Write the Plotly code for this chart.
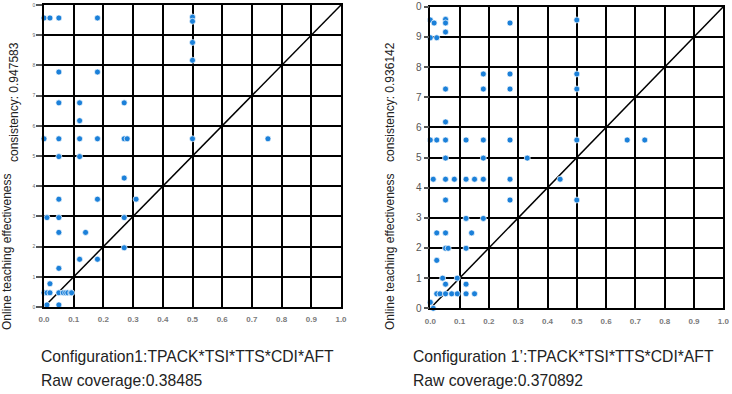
import plotly.graph_objects as go

# ---------------- data ----------------
ticks = [0.0, 0.1, 0.2, 0.3, 0.4, 0.5, 0.6, 0.7, 0.8, 0.9, 1.0]
xtick_text = ["0.0", "0.1", "0.2", "0.3", "0.4", "0.5", "0.6", "0.7", "0.8", "0.9", "1.0"]
ytick_text = ["0", "1", "2", "3", "4", "5", "6", "7", "8", "9", "0"]
diag = [0.0, 1.0]

# Configuration 1
x1 = [0.0, 0.02, 0.05, 0.18,
      0.5, 0.5, 0.5, 0.5, 0.5, 0.754,
      0.05, 0.18,
      0.05, 0.12, 0.27,
      0.12,
      0.0, 0.05, 0.12, 0.18, 0.27, 0.28,
      0.05, 0.12,
      0.27,
      0.05, 0.18, 0.31,
      0.01, 0.05, 0.27,
      0.05, 0.14,
      0.27,
      0.12, 0.18,
      0.05,
      0.02,
      0.0, 0.01, 0.02, 0.05, 0.065, 0.073, 0.08, 0.09, 0.093,
      0.01, 0.05]
y1 = [0.957, 0.957, 0.957, 0.957,
      0.96, 0.946, 0.876, 0.817, 0.557, 0.557,
      0.778, 0.778,
      0.676, 0.676, 0.676,
      0.617,
      0.557, 0.557, 0.557, 0.557, 0.557, 0.557,
      0.498, 0.498,
      0.427,
      0.357, 0.357, 0.357,
      0.296, 0.296, 0.296,
      0.247, 0.247,
      0.196,
      0.158, 0.158,
      0.128,
      0.077,
      0.047, 0.047, 0.047, 0.047, 0.047, 0.047, 0.047, 0.047, 0.047,
      0.007, 0.007]

# Configuration 1'
x2 = [0.0, 0.013, 0.052, 0.052, 0.052, 0.0, 0.022, 0.272, 0.5,
      0.181, 0.272, 0.5,
      0.052, 0.181, 0.272, 0.5,
      0.052,
      0.0, 0.022, 0.052, 0.122, 0.181, 0.272, 0.5, 0.672, 0.732,
      0.052, 0.181, 0.331,
      0.01, 0.052, 0.082, 0.122, 0.151, 0.181, 0.272, 0.443,
      0.052, 0.272, 0.5,
      0.122, 0.181,
      0.022, 0.052, 0.141,
      0.052, 0.061, 0.122,
      0.022,
      0.042, 0.092,
      0.052, 0.122,
      0.022, 0.033, 0.052, 0.073, 0.092, 0.122, 0.151,
      0.0, 0.01]
y2 = [0.956, 0.946, 0.958, 0.946, 0.916, 0.897, 0.897, 0.946, 0.956,
      0.777, 0.777, 0.777,
      0.727, 0.727, 0.727, 0.727,
      0.618,
      0.558, 0.558, 0.558, 0.558, 0.558, 0.558, 0.558, 0.558, 0.558,
      0.498, 0.498, 0.498,
      0.428, 0.428, 0.428, 0.428, 0.428, 0.428, 0.428, 0.428,
      0.359, 0.359, 0.359,
      0.298, 0.298,
      0.25, 0.25, 0.25,
      0.199, 0.199, 0.199,
      0.159,
      0.1, 0.1,
      0.08, 0.08,
      0.048, 0.048, 0.048, 0.048, 0.048, 0.048, 0.048,
      0.02, 0.0]

titles_cons = ["consistency: 0.947583", "consistency: 0.936142"]
title_y = "Online teaching effectiveness"
config_text = ["Configuration1:TPACK*TSI*TTS*CDI*AFT", "Configuration 1\u2019:TPACK*TSI*TTS*CDI*AFT"]
coverage_text = ["Raw coverage:0.38485", "Raw coverage:0.370892"]

# ---------------- figure ----------------
W, H = 732, 394
FONT = "Liberation Sans, Arial, sans-serif"
BLUE = "#1b80d9"

fig = go.Figure()

for xs, ys, xa, ya in [(x1, y1, "x", "y"), (x2, y2, "x2", "y2")]:
    fig.add_trace(go.Scatter(x=diag, y=diag, mode="lines", xaxis=xa, yaxis=ya,
                             line=dict(color="black", width=1.5), hoverinfo="skip",
                             showlegend=False))
    fig.add_trace(go.Scatter(x=xs, y=ys, mode="markers", xaxis=xa, yaxis=ya,
                             marker=dict(color=BLUE, size=6, line=dict(color="white", width=0.7)),
                             cliponaxis=False, showlegend=False))


def px_x(p):
    return p / W


def px_y(p):
    return 1 - p / H


common_x = dict(range=[0, 1], tickvals=ticks, ticktext=xtick_text, showgrid=True,
                gridcolor="black", gridwidth=1.5, showline=True, mirror=True,
                linecolor="black", linewidth=1.5, zeroline=False, ticks="",
                ticklabelstandoff=4, automargin=False,
                tickfont=dict(family=FONT, size=8, color="#7a7a7a", weight="bold"))
common_y = dict(range=[0, 1], tickvals=ticks, ticktext=ytick_text, showgrid=True,
                gridcolor="black", gridwidth=1.5, showline=True, mirror=True,
                linecolor="black", linewidth=1.5, zeroline=False, ticks="outside",
                tickcolor="#555", tickwidth=1.5, automargin=False)

fig.update_layout(
    width=W, height=H, margin=dict(l=0, r=0, t=0, b=0, autoexpand=False),
    paper_bgcolor="white", plot_bgcolor="white",
    xaxis=dict(domain=[px_x(44), px_x(341)], anchor="y", **common_x),
    yaxis=dict(domain=[px_y(307), px_y(5)], anchor="x", ticklen=6,
               tickfont=dict(family=FONT, size=5, color="#666"), **common_y),
    xaxis2=dict(domain=[px_x(430.3), px_x(723.3)], anchor="y2", **common_x),
    yaxis2=dict(domain=[px_y(308.3), px_y(6.7)], anchor="x2", ticklen=5,
                tickfont=dict(family=FONT, size=10, color="#555"), **common_y),
)

# lighter grid line at 0.6
for xr, yr in [("x", "y domain"), ("x2", "y2 domain")]:
    fig.add_shape(type="line", xref=xr, yref=yr, x0=ticks[6], x1=ticks[6], y0=0, y1=1,
                  line=dict(color="#a0a0a0", width=1.2), layer="below")

ann = []
for i, (cx, ox) in enumerate([(14, 7), (390, 390)]):
    ann.append(dict(text=titles_cons[i], x=px_x(cx), y=px_y(102), xref="paper", yref="paper",
                    textangle=-90, showarrow=False, xanchor="center", yanchor="middle",
                    font=dict(family=FONT, size=12, color="#222")))
    ann.append(dict(text=title_y, x=px_x(ox), y=px_y(252), xref="paper", yref="paper",
                    textangle=-90, showarrow=False, xanchor="center", yanchor="middle",
                    font=dict(family=FONT, size=12, color="#222")))
for i, lx in enumerate([39, 411]):
    ann.append(dict(text=config_text[i], x=px_x(lx), y=px_y(356), xref="paper", yref="paper",
                    showarrow=False, xanchor="left", yanchor="middle",
                    font=dict(family=FONT, size=15.7, color="#222")))
    ann.append(dict(text=coverage_text[i], x=px_x(lx), y=px_y(380), xref="paper", yref="paper",
                    showarrow=False, xanchor="left", yanchor="middle",
                    font=dict(family=FONT, size=15.7, color="#222")))
fig.update_layout(annotations=ann)

fig.write_html("out.html")
